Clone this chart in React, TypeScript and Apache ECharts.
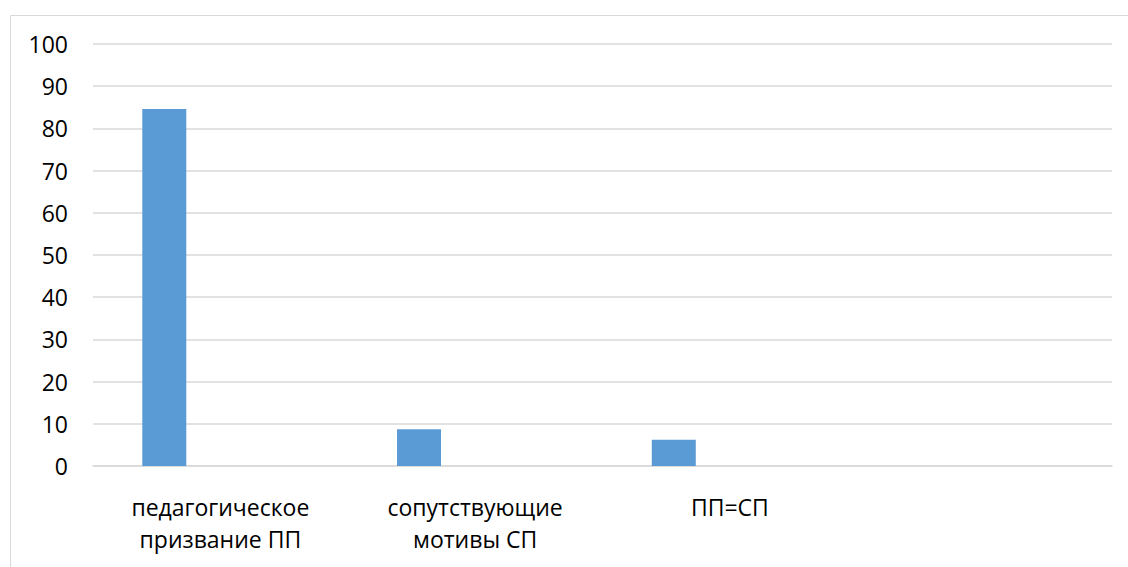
import React, { useEffect, useRef } from "react";
import * as echarts from "echarts";

const categories = ["педагогическое\nпризвание ПП", "сопутствующие\nмотивы СП", "ПП=СП", ""];
const values = [84.6, 8.7, 6.2, null];
const emptySeries = [null, null, null, null];
const yTicks = { min: 0, max: 100, interval: 10 };

export default function App() {
  const ref = useRef<HTMLDivElement>(null);
  useEffect(() => {
    const chart = echarts.init(ref.current!, null, { renderer: "svg" });
    chart.setOption({
      animation: false,
      backgroundColor: "#ffffff",
      textStyle: { fontFamily: "Open Sans" },
      grid: { left: 93, right: 16, top: 44, bottom: 101, containLabel: false },
      graphic: [
        { type: "line", shape: { x1: 10.5, y1: 15.5, x2: 1128, y2: 15.5 }, style: { stroke: "#d9d9d9", lineWidth: 1 } },
        { type: "line", shape: { x1: 10.5, y1: 15.5, x2: 10.5, y2: 567 }, style: { stroke: "#d9d9d9", lineWidth: 1 } },
      ],
      xAxis: {
        type: "category",
        data: categories,
        axisLine: { show: true, lineStyle: { color: "#d9d9d9", width: 1.5 } },
        axisTick: { show: false },
        axisLabel: {
          color: "#000000",
          fontSize: 23,
          fontFamily: "Open Sans",
          lineHeight: 32,
          margin: 25,
          interval: 0,
        },
      },
      yAxis: {
        type: "value",
        min: yTicks.min,
        max: yTicks.max,
        interval: yTicks.interval,
        axisLine: { show: false },
        axisTick: { show: false },
        splitLine: { lineStyle: { color: "#d9d9d9", width: 1.5 } },
        axisLabel: { color: "#000000", fontSize: 23, fontFamily: "Open Sans", margin: 25 },
      },
      series: [
        {
          type: "bar",
          data: values,
          barWidth: 44,
          barGap: "155%",
          itemStyle: { color: "#5b9bd5" },
        },
        {
          type: "bar",
          data: emptySeries,
          barWidth: 44,
          itemStyle: { color: "#ed7d31" },
        },
      ],
    });
    return () => chart.dispose();
  }, []);
  return (
    <div
      ref={ref}
      style={{ position: "absolute", left: 0, top: 0, width: 1128, height: 567 }}
    />
  );
}
